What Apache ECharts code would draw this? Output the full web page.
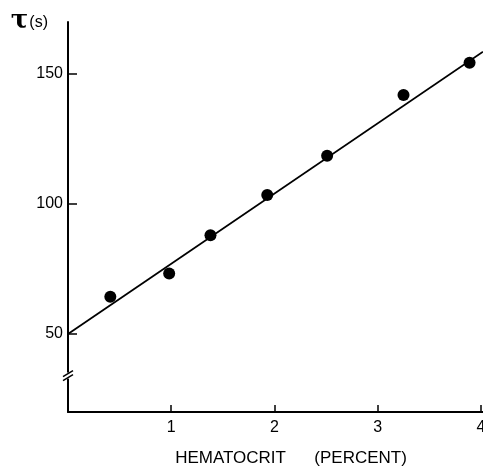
<!DOCTYPE html>
<html>
<head>
<meta charset="utf-8">
<script src="https://cdn.jsdelivr.net/npm/echarts@6/dist/echarts.min.js"></script>
<style>html,body{margin:0;padding:0;background:#fff;}#c{width:483px;height:467px;}</style>
</head>
<body>
<div id="c"></div>
<script>
// Measured points: hematocrit (percent) vs tau (s)
const hematocrit = [0.41, 0.98, 1.38, 1.93, 2.51, 3.25, 3.89];
const tau = [64.3, 73.3, 88.0, 103.5, 118.6, 141.9, 154.3];
// Fitted straight line end points
const fitX = [0, 4.02];
const fitY = [50, 158.6];
const xTicks = [1, 2, 3, 4];
const yTicks = [50, 100, 150];
const yBreakValue = 34;

const font = '"Liberation Sans", Arial, sans-serif';
const chart = echarts.init(document.getElementById('c'), null, {renderer: 'canvas'});
chart.setOption({
  animation: false,
  backgroundColor: '#fff',
  grid: {left: 68, right: 0, top: 22, bottom: 55, containLabel: false, outerBoundsMode: 'none'},
  xAxis: {
    type: 'value', min: 0, max: 4.02,
    name: 'HEMATOCRIT      (PERCENT)', nameLocation: 'middle', nameGap: 46,
    nameTextStyle: {fontFamily: font, fontSize: 17, color: '#000', verticalAlign: 'middle', padding: [0, 0, 0, 31]},
    axisLine: {show: true, onZero: false, lineStyle: {color: '#000', width: 2}},
    axisTick: {show: true, inside: true, length: 7, customValues: xTicks, lineStyle: {color: '#000', width: 1.5}},
    axisLabel: {customValues: xTicks, fontFamily: font, fontSize: 16, color: '#000', margin: 8, showMaxLabel: true},
    splitLine: {show: false}
  },
  yAxis: {
    type: 'value', min: 20, max: 170,
    name: '{t|τ}{s|(s)}', nameLocation: 'end', nameGap: 1,
    nameTextStyle: {align: 'right', verticalAlign: 'middle', padding: [0, 20, 0, 0],
      rich: {t: {fontFamily: '"DejaVu Serif", serif', fontSize: 26, fontWeight: 'bold', color: '#000'},
             s: {fontFamily: font, fontSize: 16, color: '#000', padding: [4, 0, 0, 1]}}},
    axisLine: {show: true, onZero: false, lineStyle: {color: '#000', width: 2}},
    axisTick: {show: true, inside: true, length: 9, customValues: yTicks, lineStyle: {color: '#000', width: 1.5}},
    axisLabel: {customValues: yTicks, fontFamily: font, fontSize: 16, color: '#000', margin: 5},
    splitLine: {show: false}
  },
  series: [
    {type: 'line', data: fitX.map((x, i) => [x, fitY[i]]), showSymbol: false, symbol: 'none',
     lineStyle: {color: '#000', width: 1.8}, z: 2},
    {type: 'scatter', data: hematocrit.map((x, i) => [x, tau[i]]), symbol: 'circle', symbolSize: 12,
     itemStyle: {color: '#000', opacity: 1}, z: 3}
  ]
});
// axis break mark "//" on the y axis
const p = chart.convertToPixel({gridIndex: 0}, [0, yBreakValue]);
chart.setOption({graphic: [
  {type: 'rect', shape: {x: p[0] - 3, y: p[1] - 3, width: 6, height: 6}, style: {fill: '#fff'}, z: 100},
  {type: 'line', shape: {x1: p[0] - 5, y1: p[1] + 1, x2: p[0] + 5, y2: p[1] - 5}, style: {stroke: '#000', lineWidth: 1.5}, z: 101},
  {type: 'line', shape: {x1: p[0] - 5, y1: p[1] + 5, x2: p[0] + 5, y2: p[1] - 1}, style: {stroke: '#000', lineWidth: 1.5}, z: 101}
]});
</script>
</body>
</html>
